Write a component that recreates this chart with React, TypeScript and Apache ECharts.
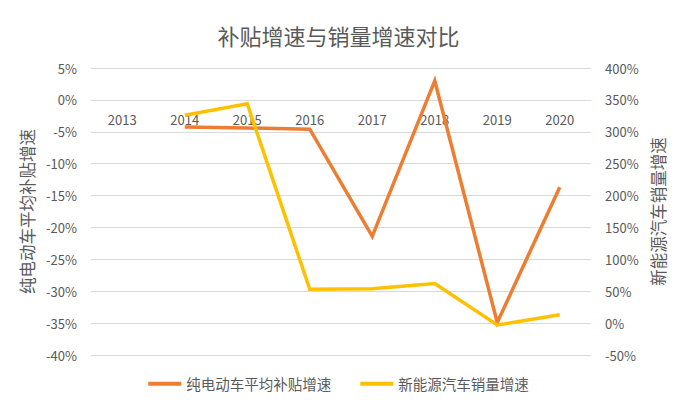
import React, { useEffect, useRef } from "react";
import * as echarts from "echarts";

const categories = ["2013", "2014", "2015", "2016", "2017", "2018", "2019", "2020"];
const subsidyGrowth = [null, -4.25, -4.4, -4.6, -21.4, 3.0, -34.9, -13.7];
const salesGrowth = [null, 326, 344, 53, 54, 62, -3, 13];
const leftTicks = { min: -40, max: 5, interval: 5 };
const rightTicks = { min: -50, max: 400, interval: 50 };

const FONT = "'Noto Sans CJK SC', 'Noto Sans', sans-serif";
const GREY = "#595959";
const GRID_TOP = 68;
const GRID_BOTTOM = 47;
const CHART_H = 402;

export default function App() {
  const ref = useRef<HTMLDivElement>(null);
  useEffect(() => {
    if (!ref.current) return;
    const chart = echarts.init(ref.current, undefined, { renderer: "svg" });
    const plotH = CHART_H - GRID_TOP - GRID_BOTTOM;
    const zeroFromBottom = (plotH * (0 - leftTicks.min)) / (leftTicks.max - leftTicks.min);
    chart.setOption({
      animation: false,
      backgroundColor: "#ffffff",
      textStyle: { fontFamily: FONT },
      title: {
        text: "补贴增速与销量增速对比",
        left: "center",
        top: 19,
        textStyle: { fontFamily: FONT, fontSize: 22, fontWeight: "normal", color: GREY },
      },
      legend: {
        bottom: 6,
        left: "center",
        icon: "rect",
        itemWidth: 33,
        itemHeight: 4,
        itemGap: 29,
        textStyle: { fontFamily: FONT, fontSize: 14.5, color: GREY, padding: [0, 0, 0, 0] },
        data: ["纯电动车平均补贴增速", "新能源汽车销量增速"],
      },
      grid: { left: 91, right: 86, top: GRID_TOP, bottom: GRID_BOTTOM, containLabel: false },
      xAxis: {
        type: "category",
        data: categories,
        boundaryGap: true,
        position: "bottom",
        offset: -zeroFromBottom,
        axisLine: { onZero: false, lineStyle: { color: "#d9d9d9" } },
        axisTick: { show: false },
        axisLabel: { color: GREY, fontSize: 13, margin: 13, fontFamily: FONT },
      },
      yAxis: [
        {
          type: "value",
          min: leftTicks.min,
          max: leftTicks.max,
          interval: leftTicks.interval,
          name: "纯电动车平均补贴增速",
          nameLocation: "middle",
          nameGap: 52,
          nameRotate: 90,
          nameTextStyle: { color: GREY, fontSize: 16.5, fontFamily: FONT },
          axisLine: { show: false },
          axisTick: { show: false },
          axisLabel: { color: GREY, fontSize: 13, margin: 14, formatter: "{value}%", fontFamily: FONT },
          splitLine: { lineStyle: { color: "#d9d9d9", width: 1 } },
        },
        {
          type: "value",
          min: rightTicks.min,
          max: rightTicks.max,
          interval: rightTicks.interval,
          position: "right",
          name: "新能源汽车销量增速",
          nameLocation: "middle",
          nameGap: 48,
          nameRotate: 90,
          nameTextStyle: { color: GREY, fontSize: 16.5, fontFamily: FONT },
          axisLine: { show: false },
          axisTick: { show: false },
          axisLabel: { color: GREY, fontSize: 13, margin: 14, formatter: "{value}%", fontFamily: FONT },
          splitLine: { show: false },
        },
      ],
      series: [
        {
          name: "纯电动车平均补贴增速",
          type: "line",
          yAxisIndex: 0,
          data: subsidyGrowth,
          symbol: "none",
          lineStyle: { color: "#ED7D31", width: 3.5, join: "miter" },
          itemStyle: { color: "#ED7D31" },
        },
        {
          name: "新能源汽车销量增速",
          type: "line",
          yAxisIndex: 1,
          data: salesGrowth,
          symbol: "none",
          lineStyle: { color: "#FFC000", width: 3.5, join: "miter" },
          itemStyle: { color: "#FFC000" },
        },
      ],
    });
    return () => chart.dispose();
  }, []);
  return <div ref={ref} style={{ width: 677, height: 402, position: "absolute", left: 0, top: 0 }} />;
}
